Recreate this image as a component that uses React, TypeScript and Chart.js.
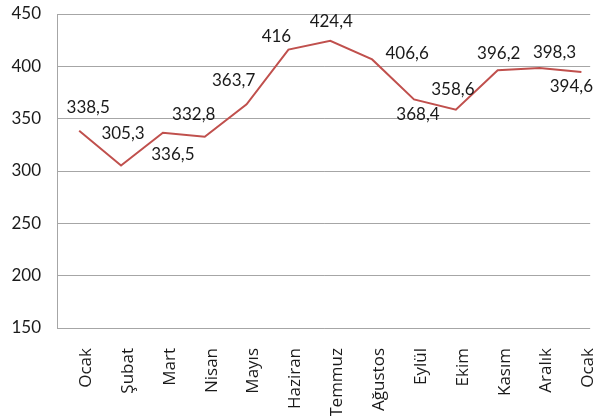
import React, { useEffect, useRef } from "react";
import { Chart, registerables } from "chart.js";

Chart.register(...registerables);

const months = ["Ocak", "Şubat", "Mart", "Nisan", "Mayıs", "Haziran", "Temmuz", "Ağustos", "Eylül", "Ekim", "Kasım", "Aralık", "Ocak"];
const values = [338.5, 305.3, 336.5, 332.8, 363.7, 416, 424.4, 406.6, 368.4, 358.6, 396.2, 398.3, 394.6];
const yMin = 150;
const yMax = 450;
const yStep = 50;

// label nudges (style only): [dx, dy] in px relative to each point
const labelNudge: [number, number][] = [
  [9, -23], [2, -32], [10, 22], [-11, -22], [-13, -24], [-12, -13], [1, -19],
  [35, -6], [4, 15], [-3, -20], [1, -17], [15, -16], [-10, 15],
];

const fmt = (v: number) => String(v).replace(".", ",");

const lineColor = "#c0504d";
const gridColor = "#a6a6a6";
const textColor = "#1a1a1a";

export default function App() {
  const ref = useRef<HTMLCanvasElement | null>(null);

  useEffect(() => {
    if (!ref.current) return;
    const labelPlugin = {
      id: "valueLabels",
      afterDatasetsDraw(chart: any) {
        const ctx = chart.ctx;
        const meta = chart.getDatasetMeta(0);
        ctx.save();
        ctx.font = "17px Lato";
        ctx.fillStyle = textColor;
        ctx.textAlign = "center";
        ctx.textBaseline = "middle";
        meta.data.forEach((pt: any, i: number) => {
          const [dx, dy] = labelNudge[i];
          ctx.fillText(fmt(values[i]), pt.x + dx, pt.y + dy);
        });
        ctx.restore();
      },
    };
    const chart = new Chart(ref.current, {
      type: "line",
      data: {
        datasets: [
          {
            data: values.map((v, i) => ({ x: i, y: v })),
            borderColor: lineColor,
            borderWidth: 2,
            pointRadius: 0,
            tension: 0,
          },
        ],
      },
      options: {
        animation: false,
        responsive: false,
        maintainAspectRatio: false,
        layout: { padding: { top: 14, right: 12, left: 0, bottom: 0 } },
        plugins: { legend: { display: false }, tooltip: { enabled: false } },
        scales: {
          x: {
            type: "linear",
            min: -0.53,
            max: 12.21,
            afterBuildTicks: (scale: any) => {
              scale.ticks = months.map((_, i) => ({ value: i }));
            },
            afterFit: (scale: any) => {
              scale.height = 88;
            },
            grid: { display: false },
            border: { display: false },
            ticks: {
              autoSkip: false,
              maxRotation: 90,
              minRotation: 90,
              padding: 12,
              labelOffset: 7,
              color: textColor,
              font: { family: "'Open Sans'", size: 17 },
              callback: (_v: any, i: number) => months[i],
            },
          },
          y: {
            min: yMin,
            max: yMax,
            afterFit: (scale: any) => {
              scale.width = 57;
            },
            grid: {
              color: gridColor,
              lineWidth: 1,
              drawTicks: true,
              tickLength: 16,
              tickColor: "rgba(0,0,0,0)",
            },
            border: { color: gridColor, width: 1 },
            ticks: {
              stepSize: yStep,
              padding: 0,
              color: textColor,
              font: { family: "Lato", size: 17 },
            },
          },
        },
      },
      plugins: [labelPlugin],
    } as any);
    return () => chart.destroy();
  }, []);

  return (
    <div style={{ position: "fixed", left: 0, top: 0, width: 614, height: 416, background: "#fff" }}>
      <canvas ref={ref} width={614} height={416} style={{ width: 614, height: 416 }} />
    </div>
  );
}
